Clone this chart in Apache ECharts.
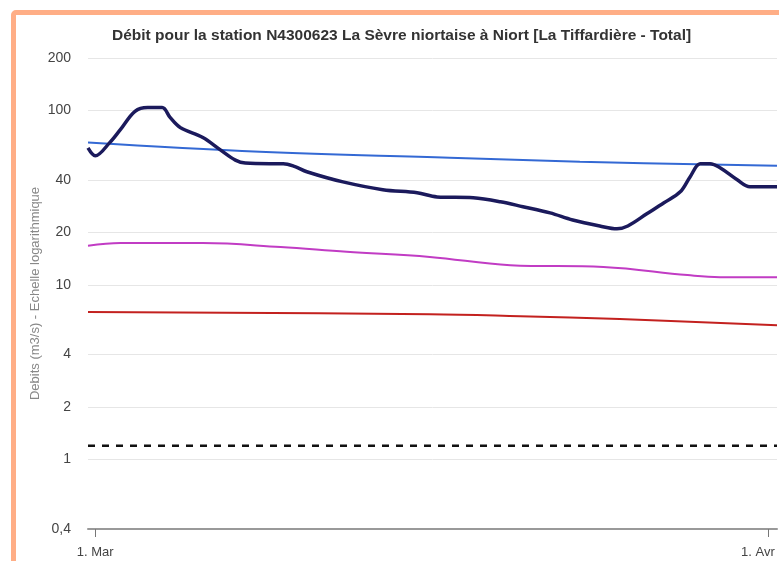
<!doctype html>
<html lang="fr">
<head>
    <meta charset="utf-8">
    <title>Débit - La Sèvre niortaise à Niort</title>
    <script src="https://cdn.jsdelivr.net/npm/echarts@6/dist/echarts.min.js"></script>
    <style>
        html, body { margin: 0; padding: 0; background: #fff; overflow: hidden; }
        #frame {
            position: absolute; left: 11px; top: 10px;
            width: 900px; height: 700px;
            border: 5px solid #ffae86; border-radius: 5px;
        }
        #main { position: absolute; left: 0; top: 0; width: 779px; height: 561px; }
    </style>
</head>
<body>
    <div id="frame"></div>
    <div id="main"></div>

    <script type="text/javascript">
    // debit observe (m3/s)
    var obsDates = ['2023-02-28 16:00', '2023-03-01 00:00', '2023-03-01 16:00', '2023-03-02 04:00',
        '2023-03-02 20:00', '2023-03-03 10:00', '2023-03-04 02:00', '2023-03-04 11:00',
        '2023-03-04 22:00', '2023-03-05 23:00', '2023-03-06 18:00', '2023-03-07 11:00',
        '2023-03-07 22:00', '2023-03-09 01:00', '2023-03-09 16:00', '2023-03-10 05:00',
        '2023-03-10 18:00', '2023-03-12 10:00', '2023-03-14 06:00', '2023-03-15 20:00',
        '2023-03-16 18:00', '2023-03-18 10:00', '2023-03-19 16:00', '2023-03-20 17:00',
        '2023-03-21 23:00', '2023-03-23 00:00', '2023-03-24 06:00', '2023-03-25 01:00',
        '2023-03-25 13:00', '2023-03-26 10:00', '2023-03-27 05:00', '2023-03-27 23:00',
        '2023-03-28 10:00', '2023-03-28 21:00', '2023-03-29 08:00', '2023-03-29 19:00',
        '2023-03-30 14:00', '2023-03-31 04:00', '2023-04-01 10:00'];
    var obsValues = [61, 55, 65.5, 78,
        99, 104, 104, 91,
        80, 70, 59.7, 52,
        50, 49.6, 49.6, 47.7,
        44.6, 39, 35.2, 33.8,
        32, 31.6, 30, 28.1,
        25.9, 23.6, 21.8, 21.0,
        21.8, 25.6, 29.6, 34.2,
        41.8, 49.5, 49.6, 47,
        40.1, 36.6, 36.6];

    // seuils
    var blueDates = ['2023-02-28 16:00', '2023-03-08 14:00', '2023-03-17 08:00', '2023-03-23 08:00', '2023-04-01 10:00'];
    var blueValues = [65.5, 58, 53.7, 50.9, 48.3];

    var magentaDates = ['2023-02-28 16:00', '2023-03-02 04:00', '2023-03-05 23:00', '2023-03-09 13:00',
        '2023-03-12 14:00', '2023-03-16 10:00', '2023-03-20 03:00', '2023-03-24 10:00',
        '2023-03-28 07:00', '2023-03-29 19:00', '2023-04-01 10:00'];
    var magentaValues = [16.8, 17.4, 17.4, 16.5, 15.5, 14.5, 13.0, 12.7, 11.4, 11.1, 11.1];

    var redDates = ['2023-02-28 16:00', '2023-03-16 10:00', '2023-03-20 14:00', '2023-03-25 04:00', '2023-04-01 10:00'];
    var redValues = [7.0, 6.81, 6.63, 6.38, 5.89];

    var dashDates = ['2023-02-28 16:00', '2023-04-01 10:00'];
    var dashValues = [1.2, 1.2];

    var yTicks = [0.4, 1, 2, 4, 10, 20, 40, 100, 200];
    var xTickDates = ['2023-03-01 00:00', '2023-04-01 00:00'];
    var xTickLabels = ['1. Mar', '1. Avr'];

    function toTime(d) {
        return new Date(d.replace(' ', 'T') + ':00').getTime();
    }
    function pairs(dates, values) {
        return dates.map(function (d, i) { return [toTime(d), values[i]]; });
    }

    var xTickTimes = xTickDates.map(toTime);

    var myChart = echarts.init(document.getElementById('main'));
    var font = 'Liberation Sans, Arial, sans-serif';

    var option = {
        animation: false,
        textStyle: { fontFamily: font },
        title: {
            text: 'Débit pour la station N4300623 La Sèvre niortaise à Niort [La Tiffardière - Total]',
            left: 107, top: 23,
            textStyle: { fontSize: 15.5, fontWeight: 'bold', color: '#333', fontFamily: font }
        },
        grid: { left: 88, right: 2, top: 58, bottom: 32, containLabel: false, outerBoundsMode: 'none' },
        xAxis: {
            type: 'value',
            min: toTime('2023-02-28 16:00'),
            max: toTime('2023-04-01 10:00'),
            axisLine: { lineStyle: { color: '#999', width: 2 } },
            axisTick: { length: 8, lineStyle: { color: '#777' }, customValues: xTickTimes },
            axisLabel: {
                customValues: xTickTimes, color: '#444', fontSize: 13, margin: 17,
                formatter: function (v) {
                    var i = xTickTimes.indexOf(v);
                    if (i < 0) return '';
                    // le dernier libelle reste dans le cadre
                    return i === xTickTimes.length - 1 ? '{last|' + xTickLabels[i] + '}' : xTickLabels[i];
                },
                rich: {
                    last: { fontSize: 13, color: '#444', padding: [0, 20, 0, 0] }
                }
            },
            splitLine: { show: false }
        },
        yAxis: {
            type: 'log',
            logBase: 10,
            min: 0.4, max: 200,
            name: 'Debits (m3/s) - Echelle logarithmique',
            nameLocation: 'middle',
            nameGap: 46,
            nameMoveOverlap: false,
            nameTextStyle: { color: '#888', fontSize: 13 },
            axisLine: { show: false },
            axisTick: { show: false, customValues: yTicks },
            axisLabel: {
                customValues: yTicks, color: '#444', fontSize: 14, margin: 17,
                formatter: function (v) { return String(Number(Number(v).toPrecision(6))).replace('.', ','); }
            },
            splitLine: { lineStyle: { color: '#e6e6e6' } }
        },
        series: [
            { type: 'line', data: pairs(dashDates, dashValues), showSymbol: false, silent: true,
              lineStyle: { color: '#111', width: 2.5, type: [7, 7] } },
            { type: 'line', data: pairs(redDates, redValues), smooth: 0.4, showSymbol: false,
              lineStyle: { color: '#c3211f', width: 2 } },
            { type: 'line', data: pairs(magentaDates, magentaValues), smooth: 0.4, showSymbol: false,
              lineStyle: { color: '#c13cc4', width: 2 } },
            { type: 'line', data: pairs(blueDates, blueValues), smooth: 0.4, showSymbol: false,
              lineStyle: { color: '#3469d4', width: 2 } },
            { type: 'line', data: pairs(obsDates, obsValues), smooth: 0.35, showSymbol: false,
              lineStyle: { color: '#1b1a5c', width: 3.5 } }
        ]
    };

    myChart.setOption(option);
    </script>
</body>
</html>
